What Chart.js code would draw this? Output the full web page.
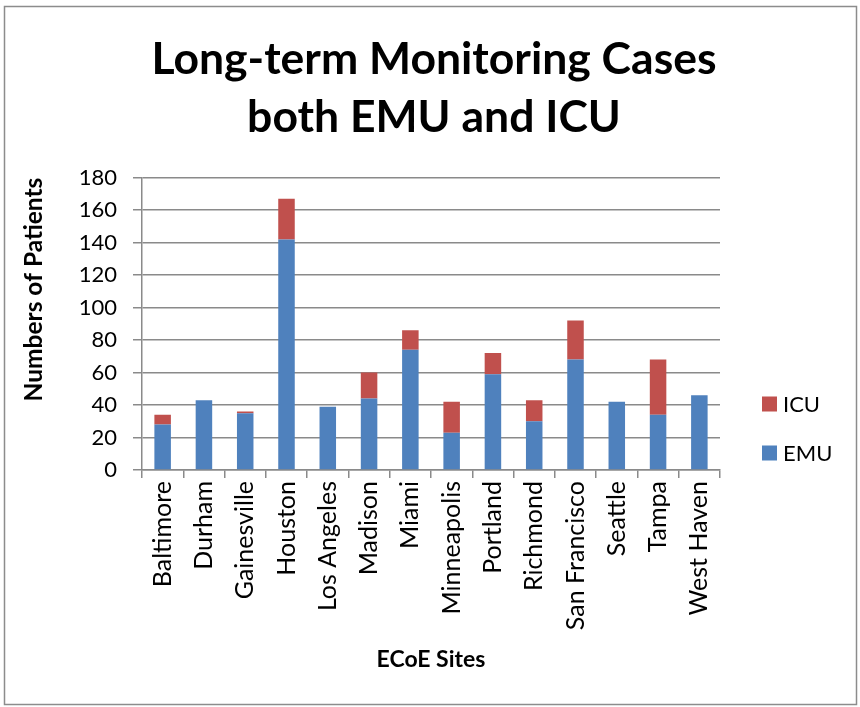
<!DOCTYPE html>
<html>
<head>
<meta charset="utf-8">
<script src="https://cdn.jsdelivr.net/npm/chart.js@4/dist/chart.umd.min.js"></script>
<style>
  html, body { margin: 0; padding: 0; background: #fff; }
  canvas { display: block; }
</style>
</head>
<body>
<canvas id="c" width="860" height="707"></canvas>
<script>
const categories = ['Baltimore','Durham','Gainesville','Houston','Los Angeles','Madison','Miami','Minneapolis','Portland','Richmond','San Francisco','Seattle','Tampa','West Haven'];
const emuValues = [28, 43, 35, 142, 39, 44, 74, 23, 59, 30, 68, 42, 34, 46];
const icuValues = [6, 0, 1, 25, 0, 16, 12, 19, 13, 13, 24, 0, 34, 0];
const yTicks = [0, 20, 40, 60, 80, 100, 120, 140, 160, 180];

const FONT = 'Lato, "Liberation Sans", sans-serif';
const GRID = '#8a8a8a';

const frameAndLegend = {
  id: 'frameAndLegend',
  beforeDraw(chart) {
    const ctx = chart.ctx;
    ctx.save();
    ctx.fillStyle = '#fff';
    ctx.fillRect(0, 0, chart.width, chart.height);
    ctx.strokeStyle = '#8c8c8c';
    ctx.lineWidth = 1.5;
    ctx.strokeRect(4.5, 6.5, chart.width - 8, chart.height - 9);
    ctx.restore();
  },
  afterDraw(chart) {
    const ctx = chart.ctx;
    const ds = chart.data.datasets;
    const order = [1, 0];
    const x0 = chart.chartArea.right + 42;
    const yStart = 404;
    const step = 49;
    ctx.save();
    ctx.font = '22px ' + FONT;
    ctx.textBaseline = 'middle';
    ctx.textAlign = 'left';
    order.forEach((i, k) => {
      const y = yStart + k * step;
      ctx.fillStyle = ds[i].backgroundColor;
      ctx.fillRect(x0, y - 7.5, 15, 15);
      ctx.fillStyle = '#000';
      ctx.fillText(ds[i].label, x0 + 21, y + 1);
    });
    ctx.restore();
  }
};

new Chart(document.getElementById('c'), {
  type: 'bar',
  data: {
    labels: categories,
    datasets: [
      { label: 'EMU', data: emuValues, backgroundColor: '#4F81BD', borderWidth: 0 },
      { label: 'ICU', data: icuValues, backgroundColor: '#C0504D', borderWidth: 0 }
    ]
  },
  options: {
    responsive: false,
    devicePixelRatio: 1,
    animation: false,
    layout: { padding: { left: 8, right: 0, top: 8, bottom: 10 } },
    datasets: { bar: { categoryPercentage: 1.0, barPercentage: 0.4 } },
    plugins: {
      legend: { display: false },
      tooltip: { enabled: false },
      title: {
        display: true,
        text: ['Long-term Monitoring Cases', 'both EMU and ICU'],
        color: '#000',
        font: { family: FONT, size: 44.5, weight: 'bold', lineHeight: 1.3 },
        padding: { top: 23, bottom: 31 }
      }
    },
    scales: {
      x: {
        stacked: true,
        grid: { display: true, drawOnChartArea: false, drawTicks: true, tickLength: 8, color: GRID, lineWidth: 1.5, offset: true },
        border: { display: true, color: GRID, width: 1.5 },
        ticks: { color: '#000', font: { family: FONT, size: 25 }, minRotation: 90, maxRotation: 90, padding: 3, autoSkip: false },
        title: { display: true, text: 'ECoE Sites', color: '#000', font: { family: FONT, size: 23, weight: 'bold' }, padding: { top: 4, bottom: 24 } },
        afterFit(scale) { scale.height = 227; }
      },
      y: {
        stacked: true,
        min: 0, max: 180,
        afterBuildTicks(scale) { scale.ticks = yTicks.map(v => ({ value: v })); },
        grid: { color: GRID, lineWidth: 1.5, drawTicks: true, tickLength: 9 },
        border: { display: true, color: GRID, width: 1.5 },
        ticks: { color: '#000', font: { family: FONT, size: 22 }, padding: 16 },
        title: { display: true, align: 'end', text: 'Numbers of Patients', color: '#000', font: { family: FONT, size: 24.5, weight: 'bold' }, padding: { top: 11, bottom: 4 } },
        afterFit(scale) { scale.width = 134; }
      },
      legendSpace: {
        type: 'linear',
        position: 'right',
        display: true,
        grid: { display: false, drawTicks: false },
        border: { display: false },
        ticks: { display: false },
        afterFit(scale) { scale.width = 140; }
      }
    }
  },
  plugins: [frameAndLegend]
});
</script>
</body>
</html>
